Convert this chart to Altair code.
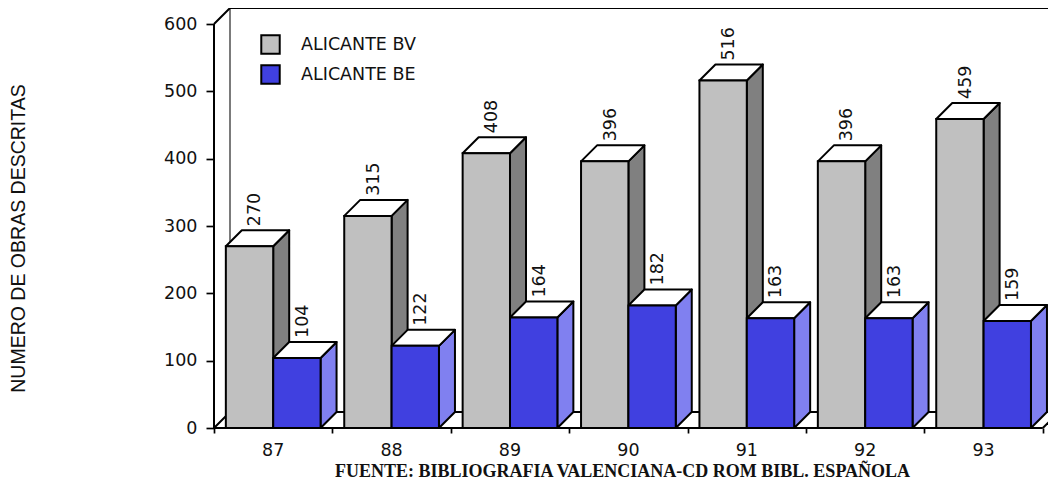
import altair as alt
import pandas as pd

years = ["87", "88", "89", "90", "91", "92", "93"]
bv = [270, 315, 408, 396, 516, 396, 459]
be = [104, 122, 164, 182, 163, 163, 159]
series_names = ["ALICANTE BV", "ALICANTE BE"]
y_ticks = [0, 100, 200, 300, 400, 500, 600]

W, H = 834, 420
UNIT_X = 118.4
UNIT_Y = 404 / 600
DX = 16 / UNIT_X
DY = 16 / UNIT_Y
BAR = 0.4
GAP = 0.1
XMAX = W / UNIT_X
YMAX = H / UNIT_Y

INK = "black"
SW = 2
SANS = "DejaVu Sans"
FS = 17.5

front, side, top, labels = [], [], [], []
for si, vals in enumerate((bv, be)):
    for i, v in enumerate(vals):
        x0 = i + GAP + si * BAR
        x1 = x0 + BAR
        gid = f"{si}-{i}"
        front.append(dict(s=series_names[si], si=si, x=x0, x2=x1, v=v))
        side += [
            dict(g=gid, si=si, x=x1, y=v, y2=0),
            dict(g=gid, si=si, x=x1 + DX, y=v + DY, y2=DY),
        ]
        top += [
            dict(g=gid, si=si, x=x0, y=v, y2=v),
            dict(g=gid, si=si, x=x0 + DX, y=v + DY, y2=v),
            dict(g=gid, si=si, x=x1, y=v + DY, y2=v),
            dict(g=gid, si=si, x=x1 + DX, y=v + DY, y2=v + DY),
        ]
        labels.append(dict(x=x0 + 0.25, y=v + DY + 6, t=str(v)))

front_df = pd.DataFrame(front)
side_df = pd.DataFrame(side)
top_df = pd.DataFrame(top)
labels_df = pd.DataFrame(labels)
year_df = pd.DataFrame(dict(x=[i + 0.5 for i in range(len(years))], y=[0] * len(years), t=years))

frame_df = pd.DataFrame(
    [
        dict(g="a", o=0, x=0, y=600), dict(g="a", o=1, x=0, y=0), dict(g="a", o=2, x=7, y=0),
        dict(g="b", o=0, x=0, y=600), dict(g="b", o=1, x=DX, y=600 + DY), dict(g="b", o=2, x=XMAX, y=600 + DY),
        dict(g="c", o=0, x=0, y=0), dict(g="c", o=1, x=DX, y=DY), dict(g="c", o=2, x=XMAX, y=DY),
        dict(g="e", o=0, x=7, y=0), dict(g="e", o=1, x=7 + DX, y=DY),
    ]
)
wall_df = pd.DataFrame([dict(o=0, x=DX, y=DY), dict(o=1, x=DX, y=600 + DY)])

xs = alt.Scale(domain=[0, XMAX], nice=False, zero=False)
ys = alt.Scale(domain=[0, YMAX], nice=False, zero=False)

x_axis = alt.Axis(
    values=list(range(8)), labels=False, grid=False, domain=False,
    tickSize=5, tickWidth=1.7, tickColor=INK,
    title="FUENTE: BIBLIOGRAFIA VALENCIANA-CD ROM BIBL. ESPAÑOLA",
    titleFont="Liberation Serif", titleFontWeight="bold", titleFontSize=18, titleColor="#111111",
    titleX=408, titleY=48.5, titleAlign="center", titleBaseline="alphabetic",
)
y_axis = alt.Axis(
    values=y_ticks, grid=False, domain=False, tickSize=8, tickWidth=1.7, tickColor=INK,
    labelFont=SANS, labelFontSize=FS, labelColor="#111111", labelPadding=9,
    title="NUMERO DE OBRAS DESCRITAS",
    titleFont="Liberation Sans", titleFontSize=19.5, titleFontWeight="normal", titleColor="#111111",
    titleX=-195.5, titleY=230, titleAngle=270, titleAlign="center", titleBaseline="middle",
)

X = lambda f: alt.X(f, scale=xs, axis=x_axis)
Y = lambda f: alt.Y(f, scale=ys, axis=y_axis, stack=None)

frame = alt.Chart(frame_df).mark_line(color=INK, strokeWidth=SW).encode(
    x=X("x:Q"),
    y=Y("y:Q"),
    detail="g:N",
    order="o:Q",
)
wall = alt.Chart(wall_df).mark_line(color="#333333", strokeWidth=1.3).encode(
    x=X("x:Q"),
    y=Y("y:Q"),
    order="o:Q",
)


def faces(df, si, fill):
    return alt.Chart(df[df.si == si]).mark_area(fill=fill, stroke=INK, strokeWidth=SW, strokeJoin="round").encode(
        x=X("x:Q"),
        y=Y("y:Q"),
        y2="y2:Q",
        detail="g:N",
    )


fronts = alt.Chart(front_df).mark_bar(stroke=INK, strokeWidth=SW).encode(
    x=X("x:Q"),
    x2="x2:Q",
    y=Y("v:Q"),
    y2=alt.Y2(datum=0),
    color=alt.Color(
        "s:N",
        scale=alt.Scale(domain=series_names, range=["#C0C0C0", "#4040E0"]),
        legend=alt.Legend(
            title=None, orient="none", legendX=46, legendY=26, padding=0,
            symbolType="square", symbolSize=340, symbolStrokeColor=INK, symbolStrokeWidth=SW,
            symbolOpacity=1, rowPadding=3, labelOffset=20,
            labelFont=SANS, labelFontSize=FS, labelColor="#111111",
        ),
    ),
)

bar_labels = alt.Chart(labels_df).mark_text(
    angle=270, align="left", baseline="middle", font=SANS, fontSize=FS, color="#111111"
).encode(
    x=X("x:Q"),
    y=Y("y:Q"),
    text="t:N",
)

year_labels = alt.Chart(year_df).mark_text(
    baseline="alphabetic", align="center", dy=28, font=SANS, fontSize=FS, color="#111111"
).encode(
    x=X("x:Q"),
    y=Y("y:Q"),
    text="t:N",
)

chart = alt.layer(
    wall,
    frame,
    faces(side_df, 0, "#808080"),
    faces(top_df, 0, "#FFFFFF"),
    faces(side_df, 1, "#8080F0"),
    faces(top_df, 1, "#FFFFFF"),
    fronts,
    bar_labels,
    year_labels,
).properties(
    width=W, height=H,
    autosize=alt.AutoSizeParams(type="none"),
    padding=dict(left=206, top=0, right=0, bottom=52),
).configure_view(stroke=None)

chart.save("out.html", embed_options={"renderer": "svg", "actions": False})
